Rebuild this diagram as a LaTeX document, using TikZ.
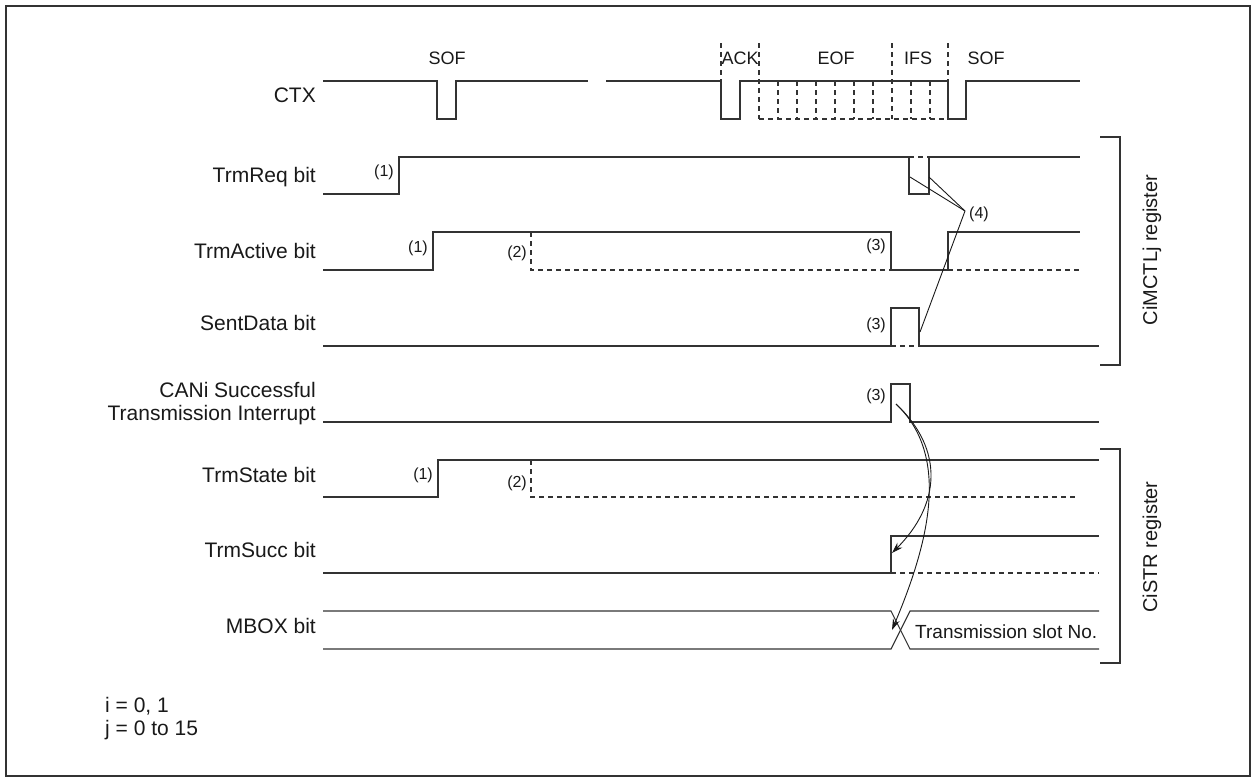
\documentclass[tikz,border=0pt]{standalone}
\usepackage{fontspec}
\setmainfont{Liberation Sans}
\usetikzlibrary{arrows.meta}
\begin{document}
\begin{tikzpicture}[x=1pt,y=-1pt,
  sig/.style={line width=1.1pt, draw=black!80, line join=miter},
  dsig/.style={line width=1.1pt, draw=black!80, dash pattern=on 5pt off 4pt},
  thin/.style={line width=0.9pt, draw=black!90},
  lbl/.style={anchor=base east, inner sep=0pt, text=black!90, font=\fontsize{21}{23}\selectfont},
  hdr/.style={anchor=base, inner sep=0pt, text=black!90, font=\fontsize{18}{20}\selectfont},
  num/.style={anchor=base east, inner sep=0pt, text=black!90, font=\fontsize{16}{18}\selectfont},
  reg/.style={anchor=base, rotate=90, inner sep=0pt, text=black!90, font=\fontsize{20}{22}\selectfont},
  arr/.style={line width=0.9pt, draw=black!90, -{Stealth[length=11pt,width=7pt]}}]
\useasboundingbox (0,0) rectangle (1256,782);
\draw[line width=2pt, draw=black!80] (6,6) rectangle (1250,776);

% ---------------- labels on the left
\node[lbl] (lctx) at (316,102) {CTX};
\node[lbl] (lreq) at (316,182) {TrmReq bit};
\node[lbl] (lact) at (316,258) {TrmActive bit};
\node[lbl] (lsent) at (316,330) {SentData bit};
\node[lbl] (lint1) at (316,397) {CANi Successful};
\node[lbl] (lint2) at (316,420) {Transmission Interrupt};
\node[lbl] (lstate) at (316,482) {TrmState bit};
\node[lbl] (lsucc) at (316,557) {TrmSucc bit};
\node[lbl] (lmbox) at (316,633) {MBOX bit};

% ---------------- CTX
\node[hdr] (sof1) at (447,64) {SOF};
\node[hdr] (ack) at (740,64) {ACK};
\node[hdr] (eof) at (836,64) {EOF};
\node[hdr] (ifs) at (918,64) {IFS};
\node[hdr] (sof2) at (986,64) {SOF};
\draw[sig] (323,81) -- (437,81) -- (437,119) -- (456,119) -- (456,81) -- (588,81);
\draw[sig] (606,81) -- (721,81) -- (721,119) -- (740,119) -- (740,81) -- (948,81)
  -- (948,119) -- (966,119) -- (966,81) -- (1080,81);
\draw[dsig] (721,43) -- (721,81);
\draw[dsig] (759,43) -- (759,119);
\draw[dsig] (892,43) -- (892,119);
\draw[dsig] (948,43) -- (948,81);
\foreach \x in {778,797,816,835,854,873,911,930}
  \draw[dsig] (\x,81) -- (\x,119);
\draw[dsig] (759,119) -- (948,119);

% ---------------- TrmReq
\draw[sig] (323,194) -- (399,194) -- (399,157) -- (909,157) -- (909,194) -- (929,194)
  -- (929,157) -- (1080,157);
\draw[dsig] (909,157) -- (929,157);
\node[num] (n1a) at (394,176) {(1)};

% ---------------- TrmActive
\draw[sig] (323,270) -- (433,270) -- (433,232) -- (891,232) -- (891,270) -- (948,270)
  -- (948,232) -- (1080,232);
\draw[dsig] (531,232) -- (531,270) -- (891,270);
\draw[dsig] (948,270) -- (1080,270);
\node[num] (n1b) at (428,252) {(1)};
\node[num] (n2a) at (527,257) {(2)};
\node[num] (n3a) at (886,250) {(3)};

% ---------------- SentData
\draw[sig] (323,346) -- (891,346) -- (891,308) -- (919,308) -- (919,346) -- (1099,346);
\draw[dsig] (891,346) -- (919,346);
\node[num] (n3b) at (886,329) {(3)};

% ---------------- Interrupt
\draw[sig] (323,422) -- (891,422) -- (891,384) -- (910,384) -- (910,422) -- (1099,422);
\node[num] (n3c) at (886,400) {(3)};

% ---------------- TrmState
\draw[sig] (323,497) -- (438,497) -- (438,460) -- (1099,460);
\draw[dsig] (531,460) -- (531,497) -- (1076,497);
\node[num] (n1c) at (433,479) {(1)};
\node[num] (n2b) at (527,487) {(2)};

% ---------------- TrmSucc
\draw[sig] (323,573) -- (891,573) -- (891,536) -- (1099,536);
\draw[dsig] (891,573) -- (1099,573);

% ---------------- MBOX
\draw[sig] (323,611) -- (891,611) -- (910,649) -- (1099,649);
\draw[sig] (323,649) -- (891,649) -- (910,611) -- (1099,611);
\node[anchor=base west, inner sep=0pt, text=black!90, font=\fontsize{19}{21}\selectfont]
  (slot) at (915,638) {Transmission slot No.};

% ---------------- (4) connectors
\node[num, anchor=base west] (n4) at (969,218) {(4)};
\coordinate (p4) at (965,211);
\coordinate (q1) at (910,177);
\coordinate (q2) at (929,177);
\coordinate (q3) at (920,332);
\draw[thin] (p4) -- (q1);
\draw[thin] (p4) -- (q2);
\draw[thin] (p4) -- (q3);

% ---------------- interrupt arrows
\coordinate (s) at (896,404);
\coordinate (tsucc) at (892,553);
\coordinate (tmbox) at (892,630);
\draw[arr] (s) .. controls (945,450) and (940,505) .. (tsucc);
\draw[arr] (s) .. controls (950,455) and (930,540) .. (tmbox);

% ---------------- brackets
\draw[sig] (1100,137) -- (1120,137) -- (1120,365) -- (1100,365);
\node[reg] (rctl) at (1157,250) {CiMCTLj register};
\draw[sig] (1100,449) -- (1120,449) -- (1120,663) -- (1100,663);
\node[reg] (rstr) at (1157,547) {CiSTR register};

% ---------------- note
\node[anchor=base west, inner sep=0pt, text=black!90, font=\fontsize{21}{23}\selectfont]
  (note1) at (105,712) {i = 0, 1};
\node[anchor=base west, inner sep=0pt, text=black!90, font=\fontsize{21}{23}\selectfont]
  (note2) at (105,735) {j = 0 to 15};
\end{tikzpicture}
\end{document}
